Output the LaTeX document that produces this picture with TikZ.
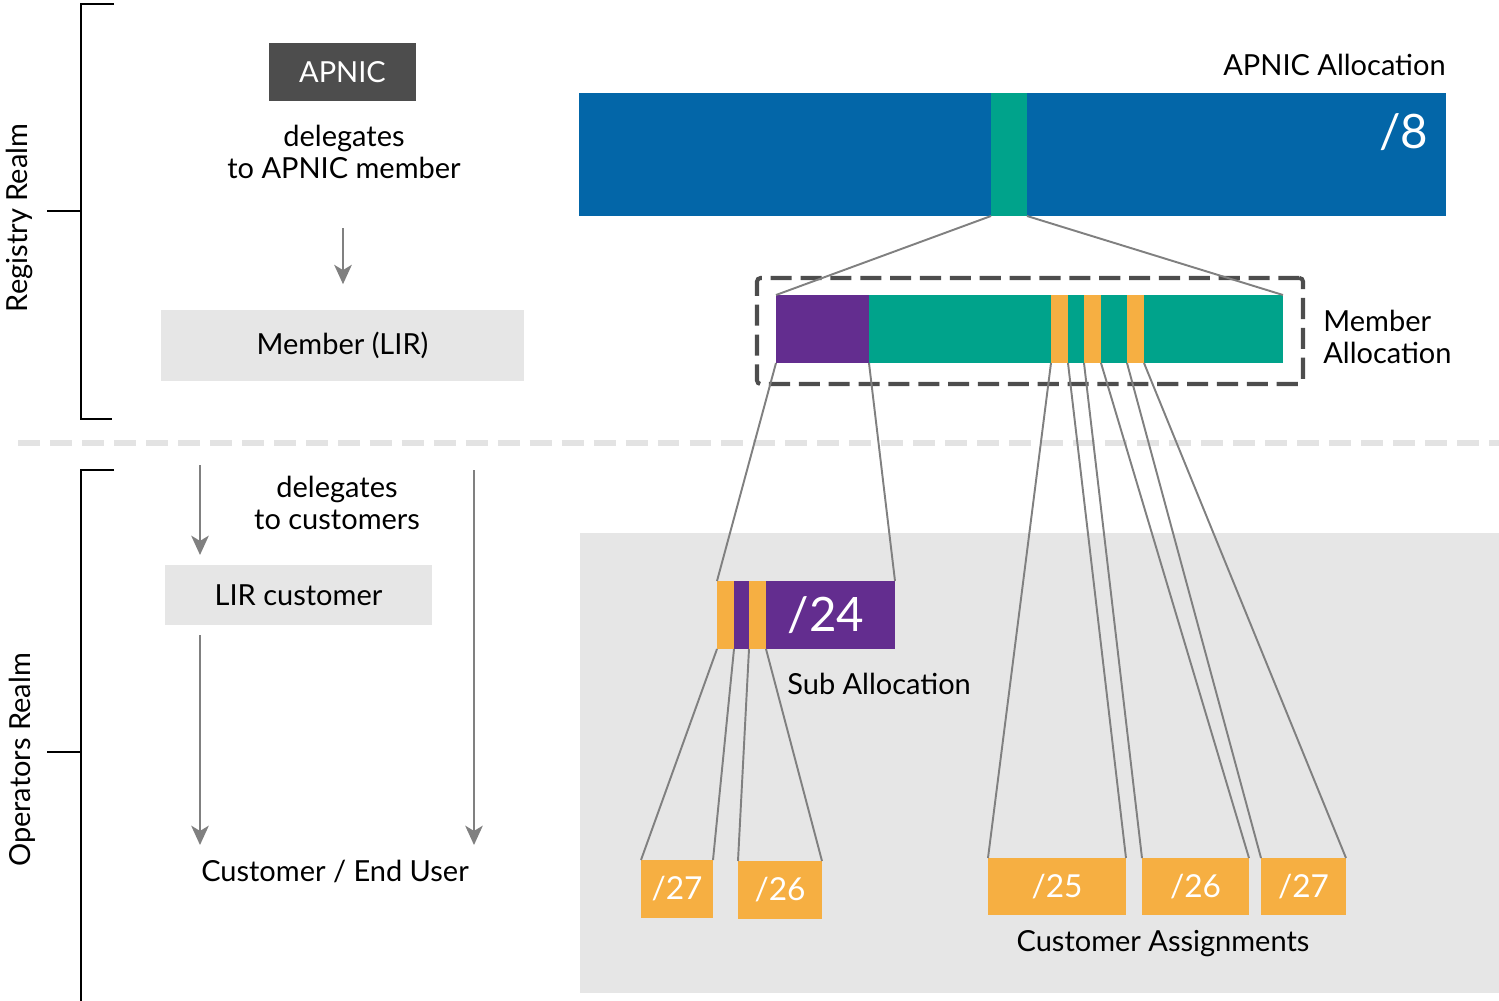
\documentclass[tikz,border=0pt]{standalone}
\usepackage{fontspec}
\setmainfont{Lato}
\usetikzlibrary{arrows.meta}
\definecolor{allocblue}{HTML}{0366A8}
\definecolor{allocteal}{HTML}{00A38B}
\definecolor{subpurple}{HTML}{632D8F}
\definecolor{custorange}{HTML}{F6AF42}
\definecolor{darkbox}{HTML}{4D4D4D}
\definecolor{lightbg}{HTML}{E6E6E6}
\definecolor{sepgray}{HTML}{E3E3E3}
\definecolor{linegray}{HTML}{808080}
\newcommand{\px}{0.02cm}
\newcommand{\barH}{68}

\begin{document}
\begin{tikzpicture}[x=0.02cm, y=-0.02cm,
        seg/.style={rectangle, inner sep=0pt, outer sep=0pt, anchor=north west},
        txt/.style={font=\fontsize{16.5}{18.7}\selectfont, inner sep=0pt, align=center},
        bignum/.style={text=white, font=\fontsize{27}{30}\selectfont},
        smallnum/.style={text=white, font=\fontsize{18}{20}\selectfont},
        flow/.style={draw=linegray, line width=1.2pt, -{Stealth[length=11pt, width=10pt, inset=3pt]}},
        link/.style={draw=linegray, line width=1.1pt},
        bracket/.style={draw=black, line width=1.2pt}]

        \useasboundingbox (0,0) rectangle (1499,1001);

        % Realm brackets
        \draw[bracket] (114,4) -- (81,4) -- (81,419) -- (112,419);
        \draw[bracket] (47,211) -- (81,211);
        \draw[bracket] (114,470) -- (81,470) -- (81,1001);
        \draw[bracket] (47,752) -- (81,752);
        \node[txt, rotate=90] (registry) at (19,218) {Registry Realm};
        \node[txt, rotate=90] (operators) at (22,760) {Operators Realm};

        % Separator between the realms
        \draw[sepgray, line width=3.4pt, dash pattern=on 12.5pt off 5.7pt] (18,443) -- (1499,443);

        % Grey area behind the operators blocks
        \fill[lightbg] (580,533) rectangle (1499,993);

        % Left column
        \node[seg, fill=darkbox, text=white, font=\fontsize{16.5}{18.7}\selectfont,
            minimum width=147*\px, minimum height=58*\px] (apnic) at (269,43) {APNIC};
        \node[txt] (dlgmember) at (344,152) {delegates\\to APNIC member};
        \node[seg, fill=lightbg, font=\fontsize{16.5}{18.7}\selectfont,
            minimum width=363*\px, minimum height=71*\px] (member) at (161,310) {Member (LIR)};
        \node[txt] (dlgcust) at (337,503) {delegates\\to customers};
        \node[seg, fill=lightbg, font=\fontsize{16.5}{18.7}\selectfont,
            minimum width=267*\px, minimum height=60*\px] (lircust) at (165,565) {LIR customer};
        \node[txt] (enduser) at (335,871) {Customer / End User};

        % Arrows in the left column
        \coordinate (a1top) at (343,228);
        \coordinate (a2top) at (200,465);
        \coordinate (a3end) at (200,845);
        \coordinate (a4top) at (474,470);
        \coordinate (a4end) at (474,845);
        \draw[flow, shorten >=14.7pt] (a1top) -- (member.north -| a1top);
        \draw[flow, shorten >=5.7pt] (a2top) -- (lircust.north -| a2top);
        \draw[flow, shorten <=5.7pt] (lircust.south -| a3end) -- (a3end);
        \draw[flow] (a4top) -- (a4end);

        % APNIC allocation
        \node[txt, anchor=east] (alloctxt) at (1446,65) {APNIC Allocation};
        \node[seg, fill=allocblue, minimum width=867*\px, minimum height=123*\px] (alloc) at (579,93) {};
        \node[seg, fill=allocteal, minimum width=36*\px, minimum height=123*\px] (ateal) at (991,93) {};
        \node[bignum] (n8) at (1404,132) {/8};

        % Member allocation
        \node[seg, draw=darkbox, line width=2.3pt, dash pattern=on 12pt off 5pt, rounded corners=2pt,
            minimum width=546*\px, minimum height=106*\px] (mbox) at (757,278) {};
        \node[seg, fill=allocteal, minimum width=507*\px, minimum height=\barH*\px] (mbar) at (776,295) {};
        \node[seg, fill=subpurple, minimum width=93*\px, minimum height=\barH*\px] (mpurple) at (776,295) {};
        \node[seg, fill=custorange, minimum width=17*\px, minimum height=\barH*\px] (mo1) at (1051,295) {};
        \node[seg, fill=custorange, minimum width=17*\px, minimum height=\barH*\px] (mo2) at (1084,295) {};
        \node[seg, fill=custorange, minimum width=17*\px, minimum height=\barH*\px] (mo3) at (1127,295) {};
        \node[txt, anchor=west, align=left] (membertxt) at (1323,337) {Member\\Allocation};

        \draw[link] (ateal.south west) -- (mbar.north west);
        \draw[link] (ateal.south east) -- (mbar.north east);

        % Sub allocation
        \node[seg, fill=subpurple, minimum width=178*\px, minimum height=\barH*\px] (sub) at (717,581) {};
        \node[seg, fill=custorange, minimum width=17*\px, minimum height=\barH*\px] (so1) at (717,581) {};
        \node[seg, fill=custorange, minimum width=17*\px, minimum height=\barH*\px] (so2) at (749,581) {};
        \node[bignum] (n24) at (826,615) {/24};
        \node[txt, anchor=west] (subtxt) at (787,684) {Sub Allocation};

        \draw[link] (mpurple.south west) -- (sub.north west);
        \draw[link] (mpurple.south east) -- (sub.north east);

        % Customer assignments from the sub allocation
        \node[seg, fill=custorange, smallnum, minimum width=72*\px, minimum height=58*\px] (s27) at (641,860) {/27};
        \node[seg, fill=custorange, smallnum, minimum width=84*\px, minimum height=58*\px] (s26) at (738,861) {/26};
        \draw[link] (so1.south west) -- (s27.north west);
        \draw[link] (so1.south east) -- (s27.north east);
        \draw[link] (so2.south west) -- (s26.north west);
        \draw[link] (so2.south east) -- (s26.north east);

        % Customer assignments from the member allocation
        \node[seg, fill=custorange, smallnum, minimum width=138*\px, minimum height=57*\px] (ca25) at (988,858) {/25};
        \node[seg, fill=custorange, smallnum, minimum width=107*\px, minimum height=57*\px] (ca26) at (1142,858) {/26};
        \node[seg, fill=custorange, smallnum, minimum width=85*\px, minimum height=57*\px] (ca27) at (1261,858) {/27};
        \node[txt] (catxt) at (1163,944) {Customer Assignments};
        \draw[link] (mo1.south west) -- (ca25.north west);
        \draw[link] (mo1.south east) -- (ca25.north east);
        \draw[link] (mo2.south west) -- (ca26.north west);
        \draw[link] (mo2.south east) -- (ca26.north east);
        \draw[link] (mo3.south west) -- (ca27.north west);
        \draw[link] (mo3.south east) -- (ca27.north east);
    \end{tikzpicture}
\end{document}
